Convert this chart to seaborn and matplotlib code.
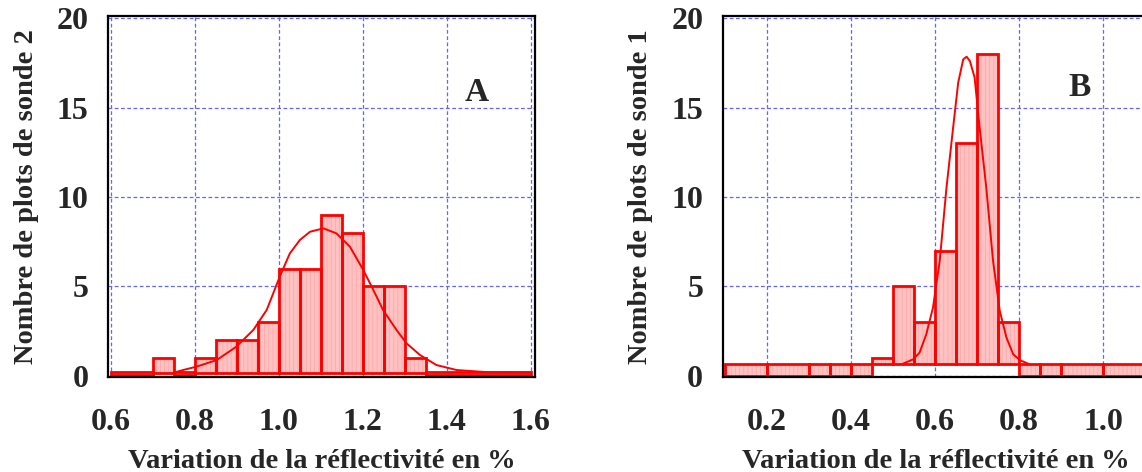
import numpy as np
import matplotlib
matplotlib.use('Agg')
import matplotlib.pyplot as plt
import seaborn as sns

# panel A : histogram (probe 2) + fitted curve
edges_a = [0.60, 0.70, 0.75, 0.80, 0.85, 0.90, 0.95, 1.00, 1.05, 1.10, 1.15,
           1.20, 1.25, 1.30, 1.35, 1.60]
counts_a = [0, 1, 0, 1, 2, 2, 3, 6, 6, 9, 8, 5, 5, 1, 0]
curve_a_x = [0.752, 0.772, 0.804, 0.852, 0.899, 0.939, 0.971, 1.002, 1.026, 1.05,
             1.074, 1.106, 1.137, 1.169, 1.201, 1.225, 1.248, 1.28, 1.304, 1.336,
             1.375, 1.423, 1.502, 1.6]
curve_a_y = [0.2, 0.33, 0.52, 0.89, 1.64, 2.57, 3.69, 5.55, 6.85, 7.6,
             8.06, 8.25, 7.97, 7.23, 5.92, 4.8, 3.69, 2.57, 1.82, 1.17,
             0.61, 0.33, 0.2, 0.19]

# panel B : histogram (probe 1) + fitted curve
edges_b = [0.10, 0.20, 0.30, 0.35, 0.40, 0.45, 0.50, 0.55, 0.60, 0.65, 0.70,
           0.75, 0.80, 0.85, 0.90, 1.00, 1.10, 1.20]
counts_b = [0, 0, 0, 0, 0, 1, 5, 3, 7, 13, 18, 3, 0, 0, 0, 0, 0]
curve_b_x = [0.524, 0.548, 0.563, 0.579, 0.595, 0.611, 0.627, 0.643, 0.655, 0.667,
             0.675, 0.683, 0.694, 0.706, 0.722, 0.738, 0.754, 0.77, 0.786, 0.802, 0.821]
curve_b_y = [0.69, 0.93, 1.3, 2.33, 3.82, 6.43, 10.5, 13.9, 16.4, 17.7,
             17.85, 17.6, 16.7, 13.9, 10.5, 6.43, 3.64, 2.14, 1.21, 0.88, 0.69]

xticks_a = [0.6, 0.8, 1.0, 1.2, 1.4, 1.6]
xticks_b = [0.2, 0.4, 0.6, 0.8, 1.0]
yticks = [0, 5, 10, 15, 20]

sns.set_style('white')
plt.rcParams['font.family'] = ['Liberation Serif', 'DejaVu Serif']
plt.rcParams['font.weight'] = 'bold'
plt.rcParams['hatch.linewidth'] = 0.6

fig = plt.figure(figsize=(11.42, 4.72), dpi=100)
ax_a = fig.add_axes([0.0946, 0.2013, 0.3739, 0.765])
ax_b = fig.add_axes([0.6328, 0.2013, 0.3739, 0.765])


def draw_panel(ax, edges, counts, cx, cy, base, zero_lo, zero_h, xlim, xticks, ylabel, letter, lpos):
    edges = np.array(edges)
    counts = np.array(counts, dtype=float)
    left = edges[:-1]
    width = np.diff(edges)
    # non-empty bins start from a small baseline, empty bins are thin strips
    bottom = np.where(counts > 0, base, zero_lo)
    height = np.where(counts > 0, counts - base, zero_h)
    ax.bar(left, height, width=width, bottom=bottom, align='edge',
           facecolor='#ffc2c2', edgecolor='#ffa8a8', linewidth=0, hatch='||||', zorder=2)
    ax.bar(left, height, width=width, bottom=bottom, align='edge',
           fill=False, edgecolor='red', linewidth=2, zorder=2.5)
    sns.lineplot(x=cx, y=cy, ax=ax, color='red', linewidth=1.4, zorder=3)
    ax.set_xlim(*xlim)
    ax.set_ylim(-0.06, 20.13)
    ax.set_xticks(xticks)
    ax.set_xticklabels([f'{t:.1f}' for t in xticks])
    ax.set_yticks(yticks)
    ax.grid(True, color='#6464ff', linestyle=(0, (3, 2)), linewidth=0.9, zorder=0)
    ax.set_axisbelow(True)
    for s in ax.spines.values():
        s.set_color('black')
        s.set_linewidth(1.6)
    ax.tick_params(axis='both', direction='out', length=10, width=1.5,
                   labelsize=23, color='black')
    ax.tick_params(axis='x', pad=12)
    ax.tick_params(axis='y', pad=4)
    for lab in ax.get_xticklabels() + ax.get_yticklabels():
        lab.set_fontweight('bold')
    ax.set_xlabel('Variation de la réflectivité en %', fontsize=20.5,
                  fontweight='bold', labelpad=9)
    ax.set_ylabel(ylabel, fontsize=20.5, fontweight='bold', labelpad=13)
    ax.text(lpos[0], lpos[1], letter, fontsize=24, fontweight='bold',
            ha='center', va='center')


draw_panel(ax_a, edges_a, counts_a, curve_a_x, curve_a_y, 0.15, 0.05, 0.15,
           (0.593, 1.610), xticks_a, 'Nombre de plots de sonde 2', 'A', (1.471, 15.87))
draw_panel(ax_b, edges_b, counts_b, curve_b_x, curve_b_y, 0.65, 0.0, 0.65,
           (0.094, 1.111), xticks_b, 'Nombre de plots de sonde 1', 'B', (0.944, 16.1))

fig.savefig('out.png', dpi=100)
